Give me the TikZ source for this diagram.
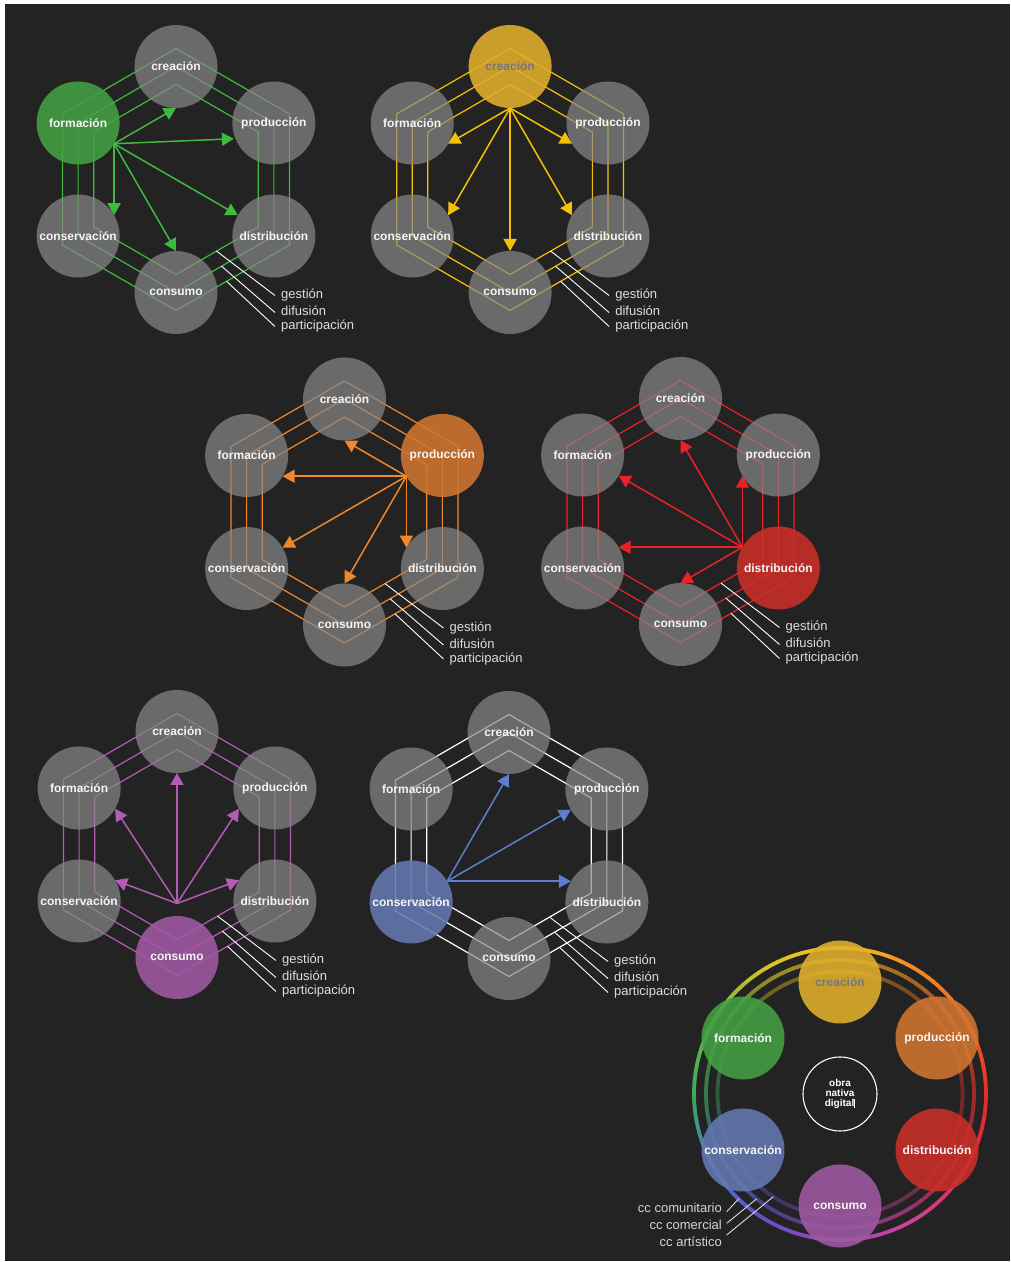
\documentclass[tikz,border=0pt]{standalone}
\usepackage{fontspec}
\setmainfont{Liberation Sans}
\usetikzlibrary{arrows.meta, calc}

\definecolor{bg}{RGB}{35,35,35}
\definecolor{nodegray}{RGB}{137,137,137}
\definecolor{nodetext}{RGB}{245,245,245}
\definecolor{lbltext}{RGB}{222,222,222}
% line colours
\definecolor{lgreen}{RGB}{62,186,62}
\definecolor{lyellow}{RGB}{245,192,10}
\definecolor{lorange}{RGB}{240,135,45}
\definecolor{lred}{RGB}{232,34,40}
\definecolor{lpurple}{RGB}{178,92,182}
\definecolor{lblue}{RGB}{92,126,205}
% highlighted fills
\definecolor{ffor}{RGB}{67,161,67}
\definecolor{fcre}{RGB}{225,176,45}
\definecolor{fpro}{RGB}{210,118,49}
\definecolor{fdis}{RGB}{203,47,40}
\definecolor{fcns}{RGB}{161,89,163}
\definecolor{fcon}{RGB}{100,121,178}
\colorlet{tfor}{nodetext}
\definecolor{tcre}{RGB}{118,118,126}
\colorlet{tpro}{nodetext}
\colorlet{tdis}{nodetext}
\colorlet{tcns}{nodetext}
\colorlet{tcon}{nodetext}
% ring stops
\definecolor{ring0}{RGB}{228,45,38}
\definecolor{ring30}{RGB}{236,100,40}
\definecolor{ring60}{RGB}{242,140,40}
\definecolor{ring90}{RGB}{245,195,25}
\definecolor{ring120}{RGB}{215,195,40}
\definecolor{ring150}{RGB}{110,185,60}
\definecolor{ring180}{RGB}{60,170,90}
\definecolor{ring210}{RGB}{75,115,200}
\definecolor{ring240}{RGB}{100,80,200}
\definecolor{ring270}{RGB}{160,70,180}
\definecolor{ring300}{RGB}{205,65,150}
\definecolor{ring330}{RGB}{228,40,80}

% one hexagon panel: id, centre, line colour, highlighted node
\newcommand{\hexpanel}[4]{%
  \coordinate (#1) at #2;
  \foreach \rad in {95,113,131}
    \draw[hexline=#3] ($(#1)+(90:\rad)$) -- ($(#1)+(150:\rad)$) -- ($(#1)+(210:\rad)$)
      -- ($(#1)+(270:\rad)$) -- ($(#1)+(330:\rad)$) -- ($(#1)+(30:\rad)$) -- cycle;
  \foreach \key/\ang/\lbl in {cre/90/creación, for/150/formación, pro/30/producción,
      con/210/conservación, dis/330/distribución, cns/270/consumo}{
    \edef\curk{\key}\edef\hlk{#4}%
    \ifx\curk\hlk
      \node[hexnode, hlnode, fill=f\key, text=t\key] (#1-\key) at ($(#1)+(\ang:113)$) {\lbl};
    \else
      \node[hexnode] (#1-\key) at ($(#1)+(\ang:113)$) {\lbl};
    \fi
    \coordinate (#1-\key-in) at ($(#1)+(\ang:71.5)$);
  }
  % gestion / difusion / participacion
  \coordinate (#1-ges-a) at ($(#1)+(40.5,-71.6)$);
  \coordinate (#1-dif-a) at ($(#1)+(45.5,-86.7)$);
  \coordinate (#1-par-a) at ($(#1)+(50.5,-101.8)$);
  \coordinate (#1-ges-b) at ($(#1)+(99,-116)$);
  \coordinate (#1-dif-b) at ($(#1)+(99,-133)$);
  \coordinate (#1-par-b) at ($(#1)+(99,-147)$);
  \draw[leader] (#1-ges-a) -- (#1-ges-b);
  \draw[leader] (#1-dif-a) -- (#1-dif-b);
  \draw[leader] (#1-par-a) -- (#1-par-b);
  \node[lbl] (#1-ges) at ($(#1)+(105,-119.5)$) {gestión};
  \node[lbl] (#1-dif) at ($(#1)+(105,-136.5)$) {difusión};
  \node[lbl] (#1-par) at ($(#1)+(105,-150.5)$) {participación};
}

\begin{document}
\begin{tikzpicture}[x=1pt, y=1pt,
  hexline/.style={draw=#1, line width=1.2pt},
  arr/.style={draw=#1, line width=1.5pt, -{Triangle[length=12pt,width=13pt]}},
  hexnode/.style={circle, minimum size=83pt, inner sep=0pt, fill=nodegray,
    fill opacity=0.7, text opacity=1, text=nodetext,
    font=\bfseries\fontsize{12}{14}\selectfont},
  hlnode/.style={fill opacity=0.88},
  lbl/.style={text=lbltext, font=\fontsize{13}{15}\selectfont, anchor=base west, inner sep=0pt},
  leader/.style={draw=white, line width=0.9pt},
  ringline/.style={line width=3.8pt}
]
\useasboundingbox (0,0) rectangle (1011,1262);
\fill[white] (0,0) rectangle (1011,1262);
\fill[bg] (5,1) rectangle (1010,1258);

% formacion
\hexpanel{p1}{(176,1082.5)}{lgreen}{for}
\coordinate (p1-pro-tip) at ($(p1-pro-in)+(-4,5)$);
\foreach \key in {cre,con,cns,dis}
  \draw[arr=lgreen] (p1-for-in) -- (p1-\key-in);
\draw[arr=lgreen] (p1-for-in) -- (p1-pro-tip);

% creacion
\hexpanel{p2}{(510.1,1082.5)}{lyellow}{cre}
\foreach \key in {for,pro,con,cns,dis}
  \draw[arr=lyellow] (p2-cre-in) -- (p2-\key-in);

% produccion
\hexpanel{p3}{(344.5,750)}{lorange}{pro}
\foreach \key in {cre,for,con,cns,dis}
  \draw[arr=lorange] (p3-pro-in) -- (p3-\key-in);

% distribucion
\hexpanel{p4}{(680.5,750.5)}{lred}{dis}
\foreach \key in {cre,for,pro,con,cns}
  \draw[arr=lred] (p4-dis-in) -- (p4-\key-in);

% consumo
\hexpanel{p5}{(177,417.5)}{lpurple}{cns}
\coordinate (p5-src) at ($(p5)+(270:59)$);
\foreach \key in {cre,for,pro,con,dis}
  \draw[arr=lpurple] (p5-src) -- (p5-\key-in);

% conservacion
\hexpanel{p6}{(509,416.5)}{white}{con}
\foreach \key in {cre,pro,dis}
  \draw[arr=lblue] (p6-con-in) -- (p6-\key-in);

% wheel
\coordinate (w) at (840,168);
\foreach \ang/\nxt in {0/30,30/60,60/90,90/120,120/150,150/180,180/210,210/240,
    240/270,270/300,300/330,330/0}{
  \foreach \s in {0,...,5}{
    \pgfmathtruncatemacro\pc{100-\s*100/6-8}
    \pgfmathsetmacro\st{\ang+\s*5}
    \colorlet{segc}{ring\ang!\pc!ring\nxt}
    \draw[ringline, segc!42!bg] ($(w)+(\st:122.5)$) arc[start angle=\st, delta angle=5.5, radius=122.5];
    \draw[ringline, segc!65!bg] ($(w)+(\st:134)$) arc[start angle=\st, delta angle=5.5, radius=134];
    \draw[ringline, segc] ($(w)+(\st:146)$) arc[start angle=\st, delta angle=5.5, radius=146];
  }
}
\foreach \key/\ang/\lbl in {cre/90/creación, for/150/formación, pro/30/producción,
    con/210/conservación, dis/330/distribución, cns/270/consumo}
  \node[hexnode, hlnode, fill=f\key, text=t\key] (w-\key) at ($(w)+(\ang:112)$) {\lbl};
\node[circle, draw=white, line width=1.1pt, minimum size=74pt, inner sep=0pt,
  text=white, align=center, font=\bfseries\fontsize{10}{10}\selectfont]
  (w-obra) at (w) {obra\\nativa\\digital\rule[-1pt]{0.9pt}{9pt}};

\coordinate (w-com-a) at ($(w)+(-113.3,-117.7)$);
\coordinate (w-cme-a) at ($(w)+(-113.3,-129.3)$);
\coordinate (w-art-a) at ($(w)+(-113.3,-141)$);
\coordinate (w-com-b) at ($(w)+(226:146)$);
\coordinate (w-cme-b) at ($(w)+(231.5:134)$);
\coordinate (w-art-b) at ($(w)+(237:122.5)$);
\draw[draw=lbltext, line width=0.9pt] (w-com-a) -- (w-com-b);
\draw[draw=lbltext, line width=0.9pt] (w-cme-a) -- (w-cme-b);
\draw[draw=lbltext, line width=0.9pt] (w-art-a) -- (w-art-b);
\node[lbl, anchor=base east, text=lbltext!90!gray] (w-com) at ($(w)+(-118,-118.5)$) {cc comunitario};
\node[lbl, anchor=base east, text=lbltext!90!gray] (w-cme) at ($(w)+(-118,-135.5)$) {cc comercial};
\node[lbl, anchor=base east, text=lbltext!90!gray] (w-art) at ($(w)+(-118,-152.5)$) {cc artístico};
\end{tikzpicture}
\end{document}
